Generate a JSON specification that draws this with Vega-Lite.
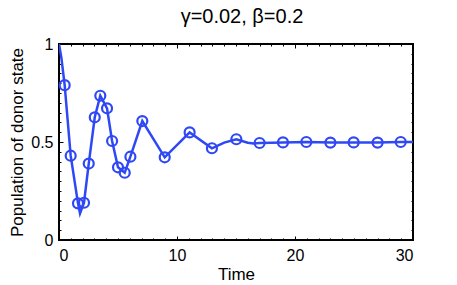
{
  "$schema": "https://vega.github.io/schema/vega-lite/v6.json",
  "width": 354,
  "height": 196,
  "autosize": {"type": "none"},
  "padding": {"left": 59, "top": 44, "right": 44, "bottom": 45},
  "config": {
    "view": {"stroke": "black", "strokeWidth": 2},
    "font": "Liberation Sans",
    "axis": {
      "domain": false, "grid": false, "tickColor": "black", "labelColor": "black", "titleColor": "black",
      "labelFont": "Liberation Sans", "titleFont": "Liberation Sans", "labelFontSize": 16, "titleFontSize": 17,
      "titleFontWeight": "normal", "tickWidth": 1
    }
  },
  "title": {"text": "γ=0.02, β=0.2", "fontSize": 20, "fontWeight": "normal", "font": "Liberation Sans", "color": "black", "offset": 9, "frame": "group", "dx": 6},
  "datasets": {
    "curve": [
      {"t": 0, "y": 1}, {"t": 0.2, "y": 0.93}, {"t": 0.48, "y": 0.79}, {"t": 0.99, "y": 0.43},
      {"t": 1.61, "y": 0.187}, {"t": 1.78, "y": 0.135}, {"t": 2.12, "y": 0.19}, {"t": 2.52, "y": 0.39},
      {"t": 3.03, "y": 0.626}, {"t": 3.5, "y": 0.736}, {"t": 4.07, "y": 0.672}, {"t": 4.5, "y": 0.505},
      {"t": 5.0, "y": 0.371}, {"t": 5.57, "y": 0.343}, {"t": 6.05, "y": 0.425}, {"t": 7.06, "y": 0.607},
      {"t": 8.96, "y": 0.422}, {"t": 11.07, "y": 0.549}, {"t": 12.96, "y": 0.468}, {"t": 14.0, "y": 0.497},
      {"t": 15.03, "y": 0.514}, {"t": 16.0, "y": 0.496}, {"t": 16.5, "y": 0.492}, {"t": 17.0, "y": 0.495},
      {"t": 18.98, "y": 0.498}, {"t": 20.96, "y": 0.5}, {"t": 23.0, "y": 0.497}, {"t": 24.97, "y": 0.498},
      {"t": 27.0, "y": 0.497}, {"t": 28.96, "y": 0.5}, {"t": 30, "y": 0.5}
    ],
    "markers": [
      {"t": 0.48, "y": 0.79}, {"t": 0.99, "y": 0.43}, {"t": 1.61, "y": 0.187}, {"t": 2.12, "y": 0.19},
      {"t": 2.52, "y": 0.39}, {"t": 3.03, "y": 0.626}, {"t": 3.5, "y": 0.736}, {"t": 4.07, "y": 0.672},
      {"t": 4.5, "y": 0.505}, {"t": 5.0, "y": 0.371}, {"t": 5.57, "y": 0.343}, {"t": 6.05, "y": 0.425},
      {"t": 7.06, "y": 0.607}, {"t": 8.96, "y": 0.422}, {"t": 11.07, "y": 0.549}, {"t": 12.96, "y": 0.468},
      {"t": 15.03, "y": 0.514}, {"t": 17.0, "y": 0.495}, {"t": 18.98, "y": 0.498}, {"t": 20.96, "y": 0.5},
      {"t": 23.0, "y": 0.497}, {"t": 24.97, "y": 0.498}, {"t": 27.0, "y": 0.497}, {"t": 28.96, "y": 0.5}
    ]
  },
  "layer": [
    {
      "data": {"name": "curve"},
      "mark": {"type": "line", "color": "#2f48f5", "strokeWidth": 2.5, "clip": true},
      "encoding": {
        "x": {"field": "t", "type": "quantitative", "scale": {"domain": [0, 30], "nice": false},
              "axis": {"orient": "bottom", "values": [0, 10, 20, 30], "tickSize": -4, "labelPadding": 11, "title": "Time", "titlePadding": 3}},
        "y": {"field": "y", "type": "quantitative", "scale": {"domain": [0, 1], "nice": false},
              "axis": {"orient": "left", "values": [0, 0.5, 1], "tickSize": -4, "labelPadding": 10, "labelExpr": "'' + datum.value", "title": "Population of donor state", "titlePadding": 4}}
      }
    },
    {
      "data": {"name": "markers"},
      "mark": {"type": "point", "shape": "circle", "filled": false, "color": "#2f48f5", "strokeWidth": 2.2, "size": 100, "opacity": 1},
      "encoding": {
        "x": {"field": "t", "type": "quantitative", "axis": {"orient": "top", "values": [0, 10, 20, 30], "tickSize": -4, "labels": false, "title": null}},
        "y": {"field": "y", "type": "quantitative", "axis": {"orient": "right", "values": [0, 0.5, 1], "tickSize": -4, "labels": false, "title": null}}
      }
    },
    {
      "data": {"name": "markers"},
      "mark": {"type": "point", "opacity": 0},
      "encoding": {
        "x": {"field": "t", "type": "quantitative", "axis": {"orient": "bottom", "values": [0,1,2,3,4,5,6,7,8,9,10,11,12,13,14,15,16,17,18,19,20,21,22,23,24,25,26,27,28,29,30], "tickSize": -2, "labels": false, "title": null}},
        "y": {"field": "y", "type": "quantitative", "axis": {"orient": "left", "values": [0,0.05,0.1,0.15,0.2,0.25,0.3,0.35,0.4,0.45,0.5,0.55,0.6,0.65,0.7,0.75,0.8,0.85,0.9,0.95,1], "tickSize": -2, "labels": false, "title": null}}
      }
    },
    {
      "data": {"name": "markers"},
      "mark": {"type": "point", "opacity": 0},
      "encoding": {
        "x": {"field": "t", "type": "quantitative", "axis": {"orient": "top", "values": [0,1,2,3,4,5,6,7,8,9,10,11,12,13,14,15,16,17,18,19,20,21,22,23,24,25,26,27,28,29,30], "tickSize": -2, "labels": false, "title": null}},
        "y": {"field": "y", "type": "quantitative", "axis": {"orient": "right", "values": [0,0.05,0.1,0.15,0.2,0.25,0.3,0.35,0.4,0.45,0.5,0.55,0.6,0.65,0.7,0.75,0.8,0.85,0.9,0.95,1], "tickSize": -2, "labels": false, "title": null}}
      }
    }
  ],
  "resolve": {"axis": {"x": "independent", "y": "independent"}}
}
